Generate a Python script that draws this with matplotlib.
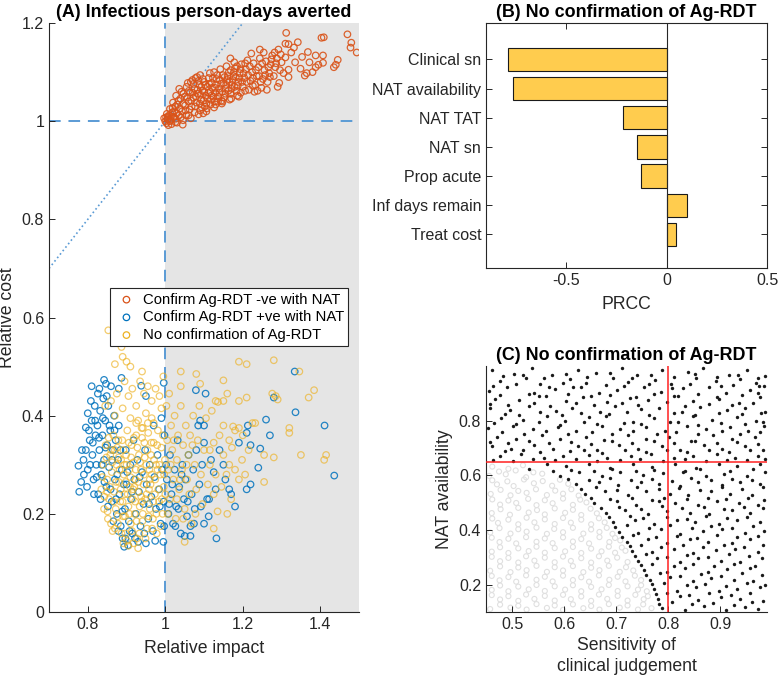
import matplotlib.pyplot as plt
from matplotlib.ticker import FormatStrFormatter

plt.rcParams['font.family'] = ['Liberation Sans', 'DejaVu Sans']

# ---- panel A: relative impact vs relative cost ----
neg_nat = [  # Confirm Ag-RDT -ve with NAT
    (1.000, 1.000), (1.003, 0.996), (0.997, 1.006), (1.006, 1.004), (1.010, 1.012), (1.004, 1.015),
    (1.014, 1.003), (1.018, 1.018), (1.012, 1.025), (1.022, 1.009), (1.026, 1.030), (1.020, 1.038),
    (1.030, 1.016), (1.034, 1.042), (1.028, 1.052), (1.038, 1.026), (1.042, 1.060), (1.036, 1.066),
    (1.046, 1.035), (1.050, 1.050), (1.016, 0.994), (1.030, 0.997), (1.045, 0.993), (1.008, 0.992),
    (1.055, 1.070), (1.052, 1.022), (1.060, 1.040), (1.064, 1.058), (1.058, 1.078), (1.068, 1.030),
    (1.072, 1.048), (1.075, 1.066), (1.070, 1.084), (1.080, 1.038), (1.084, 1.056), (1.088, 1.074),
    (1.082, 1.090), (1.092, 1.044), (1.096, 1.062), (1.100, 1.080), (1.094, 1.028), (1.104, 1.052),
    (1.108, 1.070), (1.112, 1.088), (1.106, 1.036), (1.116, 1.060), (1.120, 1.078), (1.118, 1.044),
    (1.060, 1.012), (1.076, 1.018), (1.090, 1.022), (1.102, 1.030), (1.066, 1.080), (1.078, 1.088),
    (1.090, 1.094), (1.115, 1.098), (1.124, 1.050), (1.128, 1.068), (1.132, 1.086), (1.126, 1.100),
    (1.136, 1.040), (1.140, 1.058), (1.144, 1.076), (1.148, 1.094), (1.142, 1.106), (1.152, 1.048),
    (1.156, 1.066), (1.160, 1.084), (1.164, 1.100), (1.158, 1.112), (1.168, 1.056), (1.172, 1.074),
    (1.176, 1.092), (1.180, 1.108), (1.184, 1.062), (1.188, 1.080), (1.192, 1.098), (1.196, 1.116),
    (1.190, 1.050), (1.200, 1.070), (1.130, 1.034), (1.148, 1.040), (1.170, 1.046), (1.195, 1.058),
    (1.178, 1.120), (1.168, 1.128), (1.204, 1.088), (1.208, 1.106), (1.212, 1.124), (1.216, 1.064),
    (1.220, 1.082), (1.224, 1.100), (1.228, 1.118), (1.222, 1.138), (1.232, 1.074), (1.236, 1.092),
    (1.240, 1.110), (1.244, 1.128), (1.248, 1.068), (1.252, 1.086), (1.256, 1.104), (1.260, 1.122),
    (1.254, 1.140), (1.264, 1.080), (1.268, 1.098), (1.272, 1.116), (1.276, 1.134), (1.280, 1.092),
    (1.284, 1.110), (1.288, 1.128), (1.292, 1.146), (1.296, 1.104), (1.300, 1.120), (1.290, 1.070),
    (1.294, 1.078), (1.282, 1.140), (1.230, 1.060), (1.262, 1.064), (1.244, 1.146), (1.238, 1.062),
    (1.312, 1.180), (1.342, 1.161), (1.403, 1.170), (1.409, 1.171), (1.470, 1.177), (1.480, 1.160),
    (1.494, 1.140), (1.478, 1.150), (1.310, 1.158), (1.318, 1.157), (1.368, 1.141), (1.388, 1.134),
    (1.407, 1.134), (1.407, 1.119), (1.353, 1.131), (1.372, 1.120), (1.349, 1.107), (1.388, 1.110),
    (1.360, 1.093), (1.365, 1.098), (1.440, 1.115), (1.435, 1.110), (1.445, 1.125), (1.318, 1.090),
    (1.318, 1.105), (1.305, 1.098), (1.310, 1.130), (1.325, 1.140), (1.335, 1.120), (1.380, 1.100),
    (1.395, 1.115), (1.332, 1.150),
    (1.002, 1.008), (1.007, 1.009), (1.011, 1.000), (1.015, 1.010), (1.019, 1.027), (1.023, 1.020),
    (1.027, 1.005), (1.031, 1.034), (1.035, 1.012), (1.039, 1.046), (1.043, 1.020), (1.047, 1.056),
    (1.051, 1.032), (1.054, 1.012), (1.057, 1.048), (1.061, 1.062), (1.063, 1.024), (1.067, 1.042),
    (1.071, 1.058), (1.073, 1.076), (1.077, 1.030), (1.079, 1.050), (1.083, 1.064), (1.086, 1.082),
    (1.089, 1.036), (1.091, 1.054), (1.093, 1.070), (1.097, 1.086), (1.099, 1.042), (1.101, 1.060),
    (1.103, 1.074), (1.107, 1.026), (1.109, 1.046), (1.111, 1.058), (1.113, 1.076), (1.117, 1.034),
    (1.119, 1.052), (1.121, 1.068), (1.123, 1.088), (1.127, 1.040), (1.129, 1.058), (1.131, 1.074),
    (1.134, 1.094), (1.137, 1.050), (1.139, 1.066), (1.141, 1.084), (1.145, 1.042), (1.147, 1.060),
    (1.150, 1.078), (1.153, 1.090), (1.155, 1.056), (1.157, 1.074), (1.161, 1.092), (1.163, 1.062),
    (1.166, 1.080), (1.169, 1.104), (1.171, 1.066), (1.174, 1.084), (1.177, 1.100), (1.179, 1.070),
    (1.182, 1.090), (1.185, 1.112), (1.187, 1.072), (1.191, 1.088), (1.194, 1.106), (1.198, 1.080),
    (1.202, 1.098), (1.206, 1.118), (1.210, 1.080), (1.214, 1.094), (1.218, 1.112), (1.226, 1.088),
    (1.234, 1.104), (1.242, 1.092), (1.250, 1.118), (1.258, 1.094), (1.266, 1.110), (1.274, 1.126),
    (1.286, 1.118), (1.298, 1.136), (1.270, 1.090), (1.246, 1.080), (1.226, 1.072), (1.206, 1.062),
    (1.186, 1.052), (1.166, 1.044), (1.146, 1.036), (1.126, 1.028), (1.106, 1.020), (1.086, 1.014),
    (1.066, 1.006), (1.046, 1.002), (1.026, 0.998), (1.040, 1.008), (1.098, 1.016),
]
pos_nat = [  # Confirm Ag-RDT +ve with NAT
    (0.776, 0.298), (0.778, 0.245), (0.783, 0.265), (0.789, 0.310), (0.795, 0.376), (0.800, 0.405),
    (0.810, 0.460), (0.830, 0.455), (0.842, 0.473), (0.847, 0.465), (0.860, 0.460), (0.887, 0.477),
    (0.880, 0.455), (0.938, 0.461), (0.996, 0.467), (0.950, 0.440), (0.795, 0.330), (0.800, 0.290),
    (0.805, 0.350), (0.810, 0.390), (0.812, 0.320), (0.815, 0.270), (0.818, 0.420), (0.820, 0.360),
    (0.822, 0.300), (0.825, 0.380), (0.827, 0.240), (0.830, 0.330), (0.832, 0.410), (0.835, 0.280),
    (0.838, 0.360), (0.840, 0.435), (0.842, 0.310), (0.845, 0.390), (0.848, 0.255), (0.850, 0.340),
    (0.853, 0.420), (0.855, 0.295), (0.858, 0.370), (0.862, 0.225), (0.865, 0.330), (0.868, 0.400),
    (0.870, 0.270), (0.872, 0.350), (0.875, 0.200), (0.878, 0.310), (0.880, 0.380), (0.882, 0.240),
    (0.885, 0.175), (0.888, 0.290), (0.890, 0.150), (0.894, 0.133), (0.896, 0.210), (0.898, 0.330),
    (0.900, 0.260), (0.904, 0.136), (0.906, 0.185), (0.910, 0.300), (0.912, 0.230), (0.915, 0.160),
    (0.918, 0.350), (0.920, 0.270), (0.924, 0.200), (0.928, 0.310), (0.930, 0.143), (0.932, 0.245),
    (0.936, 0.175), (0.940, 0.285), (0.944, 0.220), (0.948, 0.330), (0.950, 0.140), (0.952, 0.260),
    (0.956, 0.190), (0.960, 0.300), (0.964, 0.235), (0.968, 0.165), (0.970, 0.380), (0.972, 0.275),
    (0.976, 0.210), (0.980, 0.320), (0.984, 0.250), (0.988, 0.180), (0.992, 0.290), (0.995, 0.143),
    (0.996, 0.225), (0.998, 0.360), (0.990, 0.395), (1.004, 0.270), (1.008, 0.200), (1.012, 0.320),
    (1.016, 0.240), (1.020, 0.180), (1.024, 0.290), (1.028, 0.215), (1.032, 0.350), (1.036, 0.255),
    (1.040, 0.160), (1.044, 0.300), (1.048, 0.230), (1.050, 0.155), (1.052, 0.270), (1.056, 0.195),
    (1.060, 0.320), (1.065, 0.155), (1.065, 0.175), (1.068, 0.240), (1.072, 0.290), (1.076, 0.210),
    (1.079, 0.452), (1.080, 0.330), (1.085, 0.380), (1.088, 0.260), (1.090, 0.390), (1.095, 0.300),
    (1.100, 0.380), (1.100, 0.345), (1.100, 0.180), (1.104, 0.445), (1.108, 0.230), (1.112, 0.195),
    (1.113, 0.230), (1.118, 0.310), (1.125, 0.285), (1.130, 0.250), (1.132, 0.150), (1.140, 0.330),
    (1.150, 0.300), (1.155, 0.270), (1.165, 0.250), (1.170, 0.240), (1.180, 0.215), (1.190, 0.345),
    (1.210, 0.365), (1.213, 0.380), (1.220, 0.340), (1.220, 0.260), (1.210, 0.250), (1.240, 0.294),
    (1.245, 0.333), (1.260, 0.392), (1.270, 0.360), (1.280, 0.437), (1.334, 0.490), (1.336, 0.407),
    (1.411, 0.380), (1.436, 0.278),
    (0.785, 0.330), (0.790, 0.280), (0.798, 0.255), (0.803, 0.370), (0.806, 0.300), (0.808, 0.430),
    (0.813, 0.345), (0.816, 0.240), (0.819, 0.390), (0.823, 0.275), (0.826, 0.445), (0.829, 0.355),
    (0.833, 0.230), (0.836, 0.300), (0.839, 0.395), (0.843, 0.265), (0.846, 0.335), (0.849, 0.440),
    (0.852, 0.215), (0.856, 0.380), (0.859, 0.250), (0.863, 0.310), (0.866, 0.185), (0.869, 0.370),
    (0.873, 0.230), (0.876, 0.280), (0.879, 0.165), (0.884, 0.330), (0.889, 0.205), (0.893, 0.260),
    (0.897, 0.150), (0.902, 0.285), (0.908, 0.165), (0.914, 0.245), (0.922, 0.150), (0.934, 0.275),
    (0.946, 0.160), (0.958, 0.220), (0.974, 0.145), (0.986, 0.215), (0.997, 0.175), (1.002, 0.300),
    (1.010, 0.220), (1.018, 0.260), (1.026, 0.175), (1.034, 0.210), (1.042, 0.280), (1.058, 0.225),
    (1.074, 0.180), (1.092, 0.215),
]
no_conf = [  # No confirmation of Ag-RDT
    (0.853, 0.574), (0.887, 0.540), (0.890, 0.520), (0.870, 0.505), (0.900, 0.510), (0.910, 0.500),
    (0.940, 0.490), (1.190, 0.510), (1.210, 0.505), (1.280, 0.513), (1.346, 0.490), (1.276, 0.445),
    (1.285, 0.440), (1.290, 0.433), (1.384, 0.452), (1.370, 0.437), (1.320, 0.375), (1.320, 0.365),
    (1.350, 0.320), (1.410, 0.310), (1.415, 0.320), (1.280, 0.315), (1.255, 0.265), (1.255, 0.320),
    (1.225, 0.385), (1.232, 0.385), (1.210, 0.437), (1.190, 0.430), (1.160, 0.445), (1.150, 0.472),
    (1.150, 0.430), (1.080, 0.485), (1.040, 0.490), (1.040, 0.460), (1.090, 0.465), (1.150, 0.380),
    (1.175, 0.378), (1.190, 0.375), (1.200, 0.360), (1.165, 0.350), (1.125, 0.345), (1.115, 0.330),
    (1.170, 0.230), (1.160, 0.200), (1.125, 0.170), (1.050, 0.143), (0.930, 0.130), (0.845, 0.420),
    (0.860, 0.430), (0.875, 0.445), (0.895, 0.470), (0.905, 0.440), (0.915, 0.455), (0.925, 0.420),
    (0.935, 0.470), (0.945, 0.445), (0.955, 0.460), (0.965, 0.430), (0.975, 0.455), (0.985, 0.440),
    (0.995, 0.480), (0.870, 0.400), (0.890, 0.415), (0.910, 0.395), (0.930, 0.390), (0.950, 0.405),
    (0.970, 0.385), (0.990, 0.415), (0.835, 0.250), (0.840, 0.300), (0.842, 0.210), (0.846, 0.340),
    (0.850, 0.270), (0.852, 0.190), (0.855, 0.230), (0.858, 0.320), (0.862, 0.285), (0.864, 0.165),
    (0.866, 0.360), (0.868, 0.245), (0.872, 0.210), (0.874, 0.300), (0.876, 0.335), (0.878, 0.180),
    (0.880, 0.265), (0.884, 0.225), (0.886, 0.310), (0.889, 0.350), (0.891, 0.195), (0.893, 0.280),
    (0.895, 0.240), (0.897, 0.160), (0.899, 0.320), (0.902, 0.370), (0.905, 0.215), (0.907, 0.290),
    (0.909, 0.255), (0.911, 0.180), (0.913, 0.340), (0.916, 0.230), (0.918, 0.305), (0.921, 0.200),
    (0.923, 0.270), (0.925, 0.360), (0.927, 0.150), (0.930, 0.245), (0.932, 0.320), (0.934, 0.215),
    (0.937, 0.290), (0.939, 0.375), (0.941, 0.185), (0.944, 0.260), (0.946, 0.345), (0.948, 0.230),
    (0.951, 0.300), (0.953, 0.170), (0.956, 0.365), (0.958, 0.250), (0.960, 0.210), (0.963, 0.320),
    (0.965, 0.280), (0.968, 0.190), (0.970, 0.345), (0.973, 0.240), (0.976, 0.300), (0.978, 0.160),
    (0.981, 0.370), (0.984, 0.225), (0.987, 0.280), (0.990, 0.335), (0.993, 0.200), (0.996, 0.255),
    (0.999, 0.310), (1.003, 0.420), (1.005, 0.350), (1.008, 0.290), (1.010, 0.445), (1.012, 0.230),
    (1.015, 0.380), (1.018, 0.330), (1.021, 0.270), (1.024, 0.400), (1.027, 0.190), (1.030, 0.310),
    (1.033, 0.360), (1.036, 0.250), (1.040, 0.420), (1.043, 0.290), (1.046, 0.340), (1.050, 0.210),
    (1.053, 0.380), (1.056, 0.270), (1.060, 0.320), (1.064, 0.360), (1.068, 0.180), (1.072, 0.400),
    (1.076, 0.300), (1.080, 0.250), (1.084, 0.350), (1.088, 0.420), (1.092, 0.280), (1.096, 0.220),
    (1.100, 0.330), (1.105, 0.395), (1.110, 0.260), (1.115, 0.300), (1.120, 0.410), (1.125, 0.240),
    (1.130, 0.280), (1.135, 0.205), (1.140, 0.360), (1.145, 0.255), (1.150, 0.320), (1.158, 0.280),
    (1.165, 0.300), (1.172, 0.335), (1.180, 0.290), (1.190, 0.270), (1.198, 0.310), (1.206, 0.280),
    (1.215, 0.330), (1.130, 0.430), (1.136, 0.428), (1.180, 0.370),
    (0.838, 0.275), (0.843, 0.235), (0.848, 0.315), (0.851, 0.205), (0.854, 0.355), (0.857, 0.255),
    (0.860, 0.180), (0.863, 0.305), (0.867, 0.225), (0.870, 0.330), (0.873, 0.265), (0.877, 0.195),
    (0.879, 0.350), (0.882, 0.290), (0.885, 0.250), (0.887, 0.160), (0.890, 0.225), (0.892, 0.330),
    (0.894, 0.300), (0.896, 0.195), (0.898, 0.265), (0.901, 0.145), (0.903, 0.240), (0.906, 0.345),
    (0.908, 0.200), (0.910, 0.275), (0.912, 0.315), (0.914, 0.165), (0.917, 0.250), (0.919, 0.355),
    (0.922, 0.225), (0.924, 0.290), (0.926, 0.185), (0.928, 0.335), (0.931, 0.265), (0.933, 0.160),
    (0.935, 0.305), (0.938, 0.235), (0.940, 0.355), (0.942, 0.200), (0.945, 0.280), (0.947, 0.315),
    (0.949, 0.150), (0.952, 0.240), (0.954, 0.330), (0.957, 0.195), (0.959, 0.290), (0.962, 0.260),
    (0.964, 0.345), (0.966, 0.170), (0.969, 0.225), (0.971, 0.310), (0.974, 0.270), (0.977, 0.200),
    (0.979, 0.340), (0.982, 0.250), (0.985, 0.300), (0.988, 0.175), (0.991, 0.230), (0.994, 0.360),
    (0.997, 0.280), (0.905, 0.135), (0.918, 0.140), (0.892, 0.140), (0.942, 0.375), (0.955, 0.385),
    (0.925, 0.385), (0.965, 0.395), (0.850, 0.245), (0.860, 0.330), (0.870, 0.170), (0.880, 0.315),
    (0.900, 0.300), (0.920, 0.255), (0.940, 0.225), (0.960, 0.270), (0.980, 0.290), (1.000, 0.240),
    (1.006, 0.200), (1.014, 0.300), (1.022, 0.350), (1.030, 0.230), (1.038, 0.270), (1.046, 0.190),
    (1.055, 0.300), (1.062, 0.240), (1.070, 0.340), (1.078, 0.200),
]
series_labels = ["Confirm Ag-RDT -ve with NAT", "Confirm Ag-RDT +ve with NAT",
                 "No confirmation of Ag-RDT"]

# ---- panel B: PRCC ----
params = ["Clinical sn", "NAT availability", "NAT TAT", "NAT sn", "Prop acute",
          "Inf days remain", "Treat cost"]
prcc = [-0.79, -0.766, -0.22, -0.149, -0.129, 0.10, 0.048]

# ---- panel C: sensitivity vs NAT availability ----
black_pts = [
    (0.462, 0.985), (0.503, 0.972), (0.538, 0.991), (0.576, 0.968), (0.627, 0.987), (0.662, 0.976),
    (0.712, 0.993), (0.741, 0.968), (0.788, 0.984), (0.838, 0.977), (0.866, 0.992), (0.917, 0.966),
    (0.952, 0.987), (0.986, 0.963), (0.477, 0.944), (0.526, 0.957), (0.553, 0.936), (0.611, 0.951),
    (0.642, 0.939), (0.694, 0.958), (0.722, 0.943), (0.774, 0.949), (0.806, 0.934), (0.853, 0.956),
    (0.892, 0.946), (0.938, 0.952), (0.968, 0.937), (0.455, 0.909), (0.491, 0.923), (0.543, 0.903),
    (0.582, 0.917), (0.618, 0.925), (0.668, 0.902), (0.701, 0.913), (0.753, 0.922), (0.786, 0.904),
    (0.828, 0.918), (0.879, 0.924), (0.911, 0.901), (0.958, 0.914), (0.984, 0.927), (0.468, 0.878),
    (0.514, 0.874), (0.551, 0.889), (0.603, 0.871), (0.637, 0.886), (0.683, 0.868), (0.727, 0.883),
    (0.761, 0.874), (0.812, 0.889), (0.848, 0.871), (0.898, 0.879), (0.936, 0.866), (0.977, 0.886),
    (0.458, 0.846), (0.497, 0.838), (0.532, 0.852), (0.584, 0.837), (0.616, 0.848), (0.669, 0.831),
    (0.698, 0.853), (0.748, 0.841), (0.782, 0.847), (0.827, 0.832), (0.862, 0.851), (0.913, 0.839),
    (0.947, 0.848), (0.987, 0.833), (0.479, 0.811), (0.522, 0.803), (0.567, 0.818), (0.602, 0.798),
    (0.648, 0.812), (0.681, 0.817), (0.733, 0.797), (0.772, 0.809), (0.803, 0.796), (0.847, 0.816),
    (0.884, 0.803), (0.933, 0.812), (0.969, 0.799), (0.453, 0.774), (0.502, 0.782), (0.541, 0.768),
    (0.588, 0.777), (0.623, 0.763), (0.672, 0.781), (0.707, 0.768), (0.758, 0.776), (0.793, 0.762),
    (0.837, 0.782), (0.872, 0.768), (0.918, 0.776), (0.953, 0.762), (0.985, 0.781), (0.472, 0.741),
    (0.508, 0.733), (0.558, 0.747), (0.593, 0.732), (0.643, 0.742), (0.677, 0.728), (0.723, 0.746),
    (0.757, 0.733), (0.802, 0.741), (0.843, 0.727), (0.887, 0.747), (0.922, 0.733), (0.967, 0.742),
    (0.461, 0.706), (0.498, 0.698), (0.543, 0.712), (0.578, 0.697), (0.627, 0.707), (0.663, 0.693),
    (0.706, 0.712), (0.743, 0.698), (0.788, 0.707), (0.822, 0.692), (0.868, 0.711), (0.903, 0.698),
    (0.948, 0.707), (0.983, 0.693), (0.476, 0.671), (0.518, 0.677), (0.562, 0.663), (0.598, 0.672),
    (0.647, 0.676), (0.683, 0.662), (0.728, 0.671), (0.767, 0.677), (0.812, 0.663), (0.848, 0.672),
    (0.893, 0.678), (0.928, 0.662), (0.972, 0.671), (0.532, 0.623), (0.567, 0.641), (0.603, 0.633),
    (0.648, 0.642), (0.688, 0.628), (0.733, 0.641), (0.768, 0.632), (0.813, 0.643), (0.853, 0.628),
    (0.897, 0.641), (0.932, 0.633), (0.977, 0.642), (0.592, 0.598), (0.628, 0.612), (0.672, 0.598),
    (0.708, 0.611), (0.752, 0.601), (0.791, 0.607), (0.828, 0.613), (0.873, 0.598), (0.907, 0.606),
    (0.952, 0.597), (0.986, 0.612), (0.623, 0.568), (0.667, 0.577), (0.703, 0.563), (0.748, 0.576),
    (0.783, 0.568), (0.822, 0.562), (0.858, 0.577), (0.903, 0.564), (0.938, 0.576), (0.976, 0.567),
    (0.641, 0.533), (0.678, 0.542), (0.722, 0.528), (0.758, 0.541), (0.803, 0.533), (0.838, 0.527),
    (0.883, 0.542), (0.918, 0.533), (0.962, 0.528), (0.658, 0.498), (0.702, 0.507), (0.738, 0.493),
    (0.782, 0.506), (0.813, 0.499), (0.857, 0.492), (0.893, 0.507), (0.937, 0.498), (0.973, 0.493),
    (0.681, 0.463), (0.718, 0.472), (0.762, 0.458), (0.798, 0.471), (0.842, 0.463), (0.878, 0.457),
    (0.923, 0.472), (0.958, 0.463), (0.694, 0.428), (0.737, 0.437), (0.773, 0.423), (0.817, 0.436),
    (0.852, 0.428), (0.897, 0.422), (0.933, 0.437), (0.977, 0.428), (0.706, 0.393), (0.743, 0.388),
    (0.787, 0.402), (0.822, 0.387), (0.867, 0.396), (0.903, 0.402), (0.947, 0.388), (0.984, 0.397),
    (0.721, 0.358), (0.762, 0.367), (0.798, 0.353), (0.842, 0.366), (0.877, 0.358), (0.922, 0.352),
    (0.958, 0.367), (0.731, 0.323), (0.768, 0.318), (0.812, 0.332), (0.848, 0.317), (0.892, 0.326),
    (0.928, 0.332), (0.972, 0.318), (0.742, 0.288), (0.778, 0.297), (0.823, 0.283), (0.858, 0.296),
    (0.902, 0.288), (0.938, 0.283), (0.981, 0.297), (0.753, 0.253), (0.797, 0.248), (0.833, 0.262),
    (0.877, 0.247), (0.913, 0.256), (0.957, 0.262), (0.766, 0.218), (0.803, 0.227), (0.847, 0.213),
    (0.882, 0.226), (0.927, 0.218), (0.963, 0.212), (0.773, 0.183), (0.817, 0.178), (0.853, 0.192),
    (0.897, 0.177), (0.933, 0.186), (0.977, 0.192), (0.781, 0.148), (0.822, 0.157), (0.858, 0.143),
    (0.902, 0.156), (0.938, 0.148), (0.982, 0.142), (0.788, 0.113), (0.832, 0.108), (0.868, 0.122),
    (0.912, 0.108), (0.948, 0.117), (0.973, 0.112),
    (0.482, 0.962), (0.521, 0.968), (0.561, 0.958), (0.603, 0.971), (0.645, 0.961), (0.688, 0.974),
    (0.731, 0.957), (0.767, 0.966), (0.812, 0.959), (0.851, 0.972), (0.893, 0.961), (0.934, 0.969),
    (0.972, 0.956), (0.463, 0.927), (0.507, 0.934), (0.571, 0.925), (0.597, 0.938), (0.633, 0.924),
    (0.681, 0.932), (0.716, 0.926), (0.764, 0.935), (0.808, 0.921), (0.842, 0.933), (0.902, 0.928),
    (0.924, 0.931), (0.974, 0.926), (0.476, 0.893), (0.532, 0.897), (0.566, 0.889), (0.607, 0.899),
    (0.652, 0.891), (0.688, 0.894), (0.738, 0.888), (0.773, 0.898), (0.818, 0.891), (0.857, 0.899),
    (0.893, 0.888), (0.941, 0.894), (0.972, 0.901), (0.458, 0.862), (0.493, 0.857), (0.542, 0.866),
    (0.573, 0.854), (0.623, 0.863), (0.658, 0.856), (0.711, 0.864), (0.742, 0.858), (0.797, 0.867),
    (0.832, 0.853), (0.878, 0.862), (0.922, 0.857), (0.963, 0.866), (0.487, 0.826), (0.513, 0.821),
    (0.553, 0.831), (0.596, 0.822), (0.633, 0.829), (0.686, 0.823), (0.721, 0.832), (0.763, 0.821),
    (0.812, 0.828), (0.852, 0.822), (0.897, 0.829), (0.942, 0.824), (0.978, 0.829), (0.466, 0.792),
    (0.507, 0.788), (0.551, 0.796), (0.592, 0.786), (0.638, 0.794), (0.663, 0.787), (0.716, 0.793),
    (0.747, 0.788), (0.818, 0.794), (0.857, 0.786), (0.902, 0.792), (0.948, 0.787), (0.983, 0.796),
    (0.481, 0.757), (0.523, 0.752), (0.566, 0.761), (0.607, 0.751), (0.653, 0.758), (0.692, 0.753),
    (0.733, 0.761), (0.778, 0.752), (0.816, 0.759), (0.858, 0.753), (0.903, 0.761), (0.938, 0.752),
    (0.977, 0.757), (0.457, 0.722), (0.492, 0.718), (0.533, 0.727), (0.571, 0.717), (0.613, 0.723),
    (0.652, 0.716), (0.692, 0.726), (0.731, 0.718), (0.773, 0.724), (0.812, 0.717), (0.851, 0.726),
    (0.893, 0.719), (0.932, 0.723), (0.973, 0.716), (0.487, 0.688), (0.522, 0.692), (0.553, 0.684),
    (0.611, 0.689), (0.638, 0.693), (0.672, 0.683), (0.718, 0.691), (0.757, 0.685), (0.798, 0.692),
    (0.837, 0.684), (0.878, 0.691), (0.917, 0.686), (0.958, 0.692), (0.463, 0.658), (0.501, 0.654),
    (0.541, 0.661), (0.582, 0.656), (0.622, 0.659), (0.663, 0.653), (0.707, 0.657), (0.746, 0.661),
    (0.791, 0.654), (0.832, 0.659), (0.872, 0.653), (0.913, 0.658), (0.952, 0.655), (0.987, 0.661),
    (0.578, 0.617), (0.613, 0.621), (0.657, 0.615), (0.693, 0.622), (0.738, 0.616), (0.773, 0.621),
    (0.833, 0.616), (0.862, 0.622), (0.918, 0.617), (0.963, 0.623), (0.607, 0.586), (0.648, 0.582),
    (0.688, 0.589), (0.728, 0.584), (0.768, 0.588), (0.808, 0.581), (0.843, 0.589), (0.883, 0.583),
    (0.922, 0.588), (0.962, 0.582), (0.632, 0.551), (0.662, 0.556), (0.701, 0.548), (0.741, 0.557),
    (0.782, 0.549), (0.821, 0.554), (0.862, 0.548), (0.903, 0.557), (0.942, 0.551), (0.982, 0.556),
    (0.651, 0.516), (0.688, 0.512), (0.731, 0.519), (0.768, 0.511), (0.792, 0.518), (0.836, 0.512),
    (0.877, 0.519), (0.912, 0.513), (0.953, 0.518), (0.985, 0.511), (0.671, 0.481), (0.706, 0.486),
    (0.748, 0.478), (0.788, 0.487), (0.827, 0.479), (0.868, 0.484), (0.908, 0.477), (0.946, 0.486),
    (0.982, 0.479), (0.687, 0.446), (0.727, 0.451), (0.752, 0.443), (0.797, 0.449), (0.837, 0.442),
    (0.872, 0.451), (0.913, 0.444), (0.952, 0.449), (0.698, 0.412), (0.721, 0.418), (0.763, 0.409),
    (0.803, 0.417), (0.846, 0.408), (0.883, 0.415), (0.922, 0.409), (0.963, 0.416), (0.712, 0.376),
    (0.733, 0.381), (0.777, 0.373), (0.817, 0.379), (0.856, 0.372), (0.893, 0.381), (0.933, 0.374),
    (0.973, 0.379), (0.726, 0.341), (0.748, 0.346), (0.787, 0.338), (0.828, 0.345), (0.866, 0.337),
    (0.907, 0.344), (0.946, 0.339), (0.982, 0.346), (0.737, 0.306), (0.757, 0.311), (0.797, 0.303),
    (0.836, 0.309), (0.876, 0.302), (0.916, 0.311), (0.956, 0.304), (0.748, 0.271), (0.768, 0.276),
    (0.811, 0.268), (0.847, 0.274), (0.888, 0.267), (0.926, 0.276), (0.967, 0.269), (0.758, 0.236),
    (0.784, 0.241), (0.822, 0.233), (0.863, 0.239), (0.902, 0.232), (0.941, 0.241), (0.981, 0.234),
    (0.768, 0.201), (0.792, 0.206), (0.836, 0.198), (0.871, 0.204), (0.912, 0.197), (0.952, 0.206),
    (0.986, 0.199), (0.776, 0.166), (0.798, 0.171), (0.841, 0.163), (0.878, 0.169), (0.921, 0.162),
    (0.958, 0.171), (0.783, 0.131), (0.807, 0.136), (0.846, 0.128), (0.887, 0.134), (0.926, 0.127),
    (0.962, 0.136),
]
grey_pts = [
    (0.462, 0.632), (0.493, 0.624), (0.521, 0.637), (0.456, 0.598), (0.488, 0.604), (0.527, 0.593),
    (0.558, 0.606), (0.471, 0.567), (0.503, 0.561), (0.542, 0.571), (0.577, 0.562), (0.608, 0.569),
    (0.459, 0.532), (0.497, 0.527), (0.528, 0.536), (0.567, 0.528), (0.598, 0.533), (0.628, 0.526),
    (0.477, 0.493), (0.508, 0.499), (0.547, 0.491), (0.578, 0.498), (0.617, 0.492), (0.643, 0.501),
    (0.461, 0.462), (0.496, 0.456), (0.532, 0.464), (0.563, 0.457), (0.602, 0.463), (0.633, 0.455),
    (0.663, 0.461), (0.473, 0.426), (0.512, 0.421), (0.543, 0.428), (0.582, 0.422), (0.613, 0.427),
    (0.652, 0.421), (0.678, 0.428), (0.458, 0.391), (0.497, 0.387), (0.528, 0.394), (0.567, 0.386),
    (0.598, 0.392), (0.637, 0.387), (0.668, 0.393), (0.693, 0.386), (0.476, 0.356), (0.508, 0.351),
    (0.547, 0.357), (0.578, 0.352), (0.617, 0.358), (0.648, 0.351), (0.687, 0.356), (0.708, 0.362),
    (0.461, 0.321), (0.493, 0.316), (0.532, 0.323), (0.563, 0.317), (0.602, 0.322), (0.633, 0.316),
    (0.672, 0.322), (0.698, 0.317), (0.718, 0.324), (0.477, 0.286), (0.512, 0.281), (0.543, 0.288),
    (0.582, 0.282), (0.613, 0.287), (0.652, 0.281), (0.683, 0.288), (0.722, 0.283), (0.458, 0.251),
    (0.497, 0.246), (0.528, 0.253), (0.567, 0.247), (0.598, 0.252), (0.637, 0.246), (0.668, 0.253),
    (0.707, 0.247), (0.733, 0.252), (0.476, 0.216), (0.508, 0.211), (0.547, 0.218), (0.578, 0.212),
    (0.617, 0.217), (0.648, 0.211), (0.687, 0.218), (0.718, 0.212), (0.748, 0.217), (0.461, 0.181),
    (0.493, 0.176), (0.532, 0.183), (0.563, 0.177), (0.602, 0.182), (0.633, 0.176), (0.672, 0.183),
    (0.703, 0.177), (0.742, 0.182), (0.759, 0.176), (0.477, 0.146), (0.512, 0.141), (0.543, 0.148),
    (0.582, 0.142), (0.613, 0.147), (0.652, 0.141), (0.683, 0.148), (0.722, 0.142), (0.753, 0.147),
    (0.458, 0.111), (0.497, 0.116), (0.528, 0.109), (0.567, 0.115), (0.598, 0.108), (0.637, 0.114),
    (0.668, 0.109), (0.707, 0.116), (0.742, 0.109), (0.768, 0.114),
    (0.475, 0.614), (0.507, 0.618), (0.541, 0.611), (0.462, 0.582), (0.491, 0.578), (0.523, 0.585),
    (0.559, 0.579), (0.592, 0.584), (0.478, 0.547), (0.512, 0.543), (0.546, 0.549), (0.583, 0.544),
    (0.614, 0.549), (0.462, 0.512), (0.493, 0.508), (0.531, 0.514), (0.563, 0.509), (0.598, 0.515),
    (0.631, 0.511), (0.478, 0.476), (0.512, 0.481), (0.548, 0.473), (0.582, 0.479), (0.617, 0.474),
    (0.651, 0.478), (0.462, 0.442), (0.493, 0.438), (0.528, 0.445), (0.563, 0.439), (0.598, 0.444),
    (0.633, 0.438), (0.667, 0.443), (0.476, 0.407), (0.512, 0.403), (0.547, 0.409), (0.581, 0.404),
    (0.617, 0.408), (0.652, 0.402), (0.682, 0.408), (0.461, 0.372), (0.493, 0.368), (0.527, 0.374),
    (0.563, 0.369), (0.598, 0.373), (0.633, 0.367), (0.668, 0.374), (0.698, 0.371), (0.477, 0.337),
    (0.512, 0.333), (0.547, 0.339), (0.582, 0.334), (0.617, 0.338), (0.652, 0.332), (0.686, 0.339),
    (0.711, 0.336), (0.461, 0.302), (0.493, 0.298), (0.527, 0.304), (0.563, 0.299), (0.598, 0.303),
    (0.633, 0.297), (0.667, 0.304), (0.702, 0.299), (0.477, 0.267), (0.512, 0.263), (0.547, 0.269),
    (0.582, 0.264), (0.617, 0.268), (0.652, 0.262), (0.686, 0.269), (0.719, 0.264), (0.461, 0.232),
    (0.493, 0.228), (0.527, 0.234), (0.563, 0.229), (0.598, 0.233), (0.633, 0.227), (0.667, 0.234),
    (0.703, 0.229), (0.736, 0.233), (0.477, 0.197), (0.512, 0.193), (0.547, 0.199), (0.582, 0.194),
    (0.617, 0.198), (0.652, 0.192), (0.686, 0.199), (0.722, 0.194), (0.748, 0.198), (0.461, 0.162),
    (0.493, 0.158), (0.527, 0.164), (0.563, 0.159), (0.598, 0.163), (0.633, 0.157), (0.667, 0.164),
    (0.703, 0.159), (0.737, 0.163), (0.761, 0.158), (0.477, 0.127), (0.512, 0.123), (0.547, 0.129),
    (0.582, 0.124), (0.617, 0.128), (0.652, 0.122), (0.686, 0.129), (0.722, 0.124), (0.752, 0.128),
]
sn_cut = 0.8
nat_cut = 0.65

axis_col = '#262626'
orange = '#D95319'
blue = '#0072BD'
yellow = '#EDB120'
ref_blue = '#5B9BD5'


def style(ax, box=False):
    for s in ['top', 'right']:
        ax.spines[s].set_visible(box)
    for s in ax.spines.values():
        s.set_color(axis_col)
        s.set_linewidth(0.8)
    ax.tick_params(direction='in', length=4, width=0.7, colors=axis_col,
                   labelsize=11.5, top=box, right=box)


fig = plt.figure(figsize=(7.78, 6.82), dpi=100)

# ---- (A) ----
axA = fig.add_axes([0.063, 0.1026, 0.3985, 0.8636])
axA.axvspan(1.0, 1.5, color='#e5e5e5', lw=0, zorder=0)
axA.axline((1, 1), slope=1, ls=':', color=ref_blue, lw=1.2, zorder=1)
axA.axvline(1, ls=(0, (6, 4)), color=ref_blue, lw=1.4, zorder=1)
axA.axhline(1, ls=(0, (6, 4)), color=ref_blue, lw=1.4, zorder=1)
handles = []
for pts, col, a, lab in [(neg_nat, orange, 0.9, series_labels[0]),
                         (pos_nat, blue, 0.85, series_labels[1]),
                         (no_conf, yellow, 0.65, series_labels[2])]:
    xs = [p[0] for p in pts]
    ys = [p[1] for p in pts]
    h = axA.scatter(xs, ys, s=22, facecolors='none', edgecolors=col, linewidths=0.9,
                    alpha=a, label=lab, zorder=2)
    handles.append(h)
axA.set_xlim(0.7, 1.5)
axA.set_ylim(0, 1.2)
axA.set_xticks([0.8, 1.0, 1.2, 1.4])
axA.set_yticks([0, 0.2, 0.4, 0.6, 0.8, 1.0, 1.2])
axA.xaxis.set_major_formatter(FormatStrFormatter('%g'))
axA.yaxis.set_major_formatter(FormatStrFormatter('%g'))
style(axA)
axA.set_xlabel('Relative impact', fontsize=12.7, color=axis_col, labelpad=6)
axA.set_ylabel('Relative cost', fontsize=12.7, color=axis_col)
axA.set_title('(A) Infectious person-days averted', fontsize=12.9, fontweight='bold', pad=4)
leg = axA.legend(handles=handles, loc='upper left', bbox_to_anchor=(0.197, 0.55),
                 borderaxespad=0, fancybox=False, edgecolor=axis_col, framealpha=1,
                 fontsize=10.7, handletextpad=0.3, labelspacing=0.25, handlelength=1.6,
                 borderpad=0.3)
leg.get_frame().set_linewidth(0.8)
for h in leg.legend_handles:
    h.set_alpha(1)

# ---- (B) ----
axB = fig.add_axes([0.6247, 0.607, 0.3612, 0.3593])
ypos = list(range(1, len(params) + 1))
axB.barh(ypos, prcc, height=0.8, color='#FFCC4E', edgecolor='#1a1a1a', linewidth=0.8)
axB.axvline(0, color=axis_col, lw=0.8)
axB.set_xlim(-0.9, 0.5)
axB.set_ylim(8.15, -0.25)
axB.set_yticks(ypos)
axB.set_yticklabels(params)
axB.set_xticks([-0.5, 0, 0.5])
axB.xaxis.set_major_formatter(FormatStrFormatter('%g'))
style(axB, box=True)
axB.set_xlabel('PRCC', fontsize=12.7, color=axis_col, labelpad=6)
axB.set_title('(B) No confirmation of Ag-RDT', fontsize=12.9, fontweight='bold', pad=4)

# ---- (C) ----
axC = fig.add_axes([0.6247, 0.1026, 0.3612, 0.3607])
axC.scatter([p[0] for p in grey_pts], [p[1] for p in grey_pts], s=13, facecolors='none',
            edgecolors='#e0e0e0', linewidths=0.8, zorder=1)
axC.scatter([p[0] for p in black_pts], [p[1] for p in black_pts], s=6, color='#1a1a1a',
            lw=0, zorder=2)
axC.axvline(sn_cut, color='#ff2020', lw=1.1, zorder=3)
axC.axhline(nat_cut, color='#ff2020', lw=1.1, zorder=3)
axC.set_xlim(0.45, 0.99)
axC.set_ylim(0.1, 1.0)
axC.set_xticks([0.5, 0.6, 0.7, 0.8, 0.9])
axC.set_yticks([0.2, 0.4, 0.6, 0.8])
axC.xaxis.set_major_formatter(FormatStrFormatter('%g'))
axC.yaxis.set_major_formatter(FormatStrFormatter('%g'))
style(axC)
axC.set_xlabel('Sensitivity of\nclinical judgement', fontsize=12.7, color=axis_col,
               linespacing=1.25)
axC.set_ylabel('NAT availability', fontsize=12.7, color=axis_col)
axC.set_title('(C) No confirmation of Ag-RDT', fontsize=12.9, fontweight='bold', pad=4)

fig.savefig('out.png', dpi=100)
